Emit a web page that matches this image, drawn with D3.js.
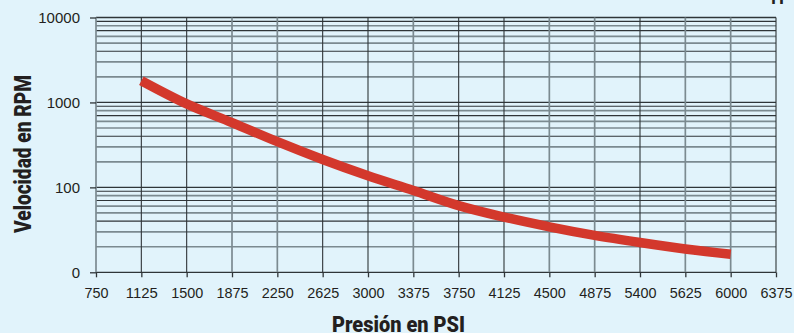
<!DOCTYPE html>
<html>
<head>
<meta charset="utf-8">
<script src="https://cdn.jsdelivr.net/npm/d3@7"></script>
<style>
  html, body { margin: 0; padding: 0; background: #e1f3fb; }
  svg { display: block; }
</style>
</head>
<body>
<svg id="chart" width="794" height="333"></svg>
<script>
// Pressure axis categories (PSI)
const pressureLabels = ["750", "1125", "1500", "1875", "2250", "2625", "3000", "3375",
                        "3750", "4125", "4500", "4875", "5400", "5625", "6000", "6375"];

// Speed curve: pressure category -> RPM
const curvePressure = ["1125", "1500", "1875", "2250", "2625", "3000", "3375",
                       "3750", "4125", "4500", "4875", "5400", "5625", "6000"];
const curveRpm = [1800, 960, 580, 345, 213, 137, 92, 61, 44.7, 34.3, 27.2, 22.4, 18.8, 16.3];

// Log-scale RPM ticks and their printed labels
const rpmTickValues = [10, 100, 1000, 10000];
const rpmTickLabels = ["0", "100", "1000", "10000"];

// ---- layout & styling ----
const W = 794, H = 333;
const plotLeft = 96, plotRight = 776, plotTop = 17.5, plotBottom = 272.3;
const ink = "#231f20";
const darkLine = { stroke: "#2f3538", width: 1.1 };
const greyLine = { stroke: "#7b8a90", width: 1.7 };
// printed grid alternates between two inks
const verticalInk = "gddggddgddggdggd";
const minorInk = { 2: "g", 3: "g", 4: "d", 5: "g", 6: "g", 7: "d", 8: "g", 9: "d" };
const styleOf = c => (c === "d" ? darkLine : greyLine);

const svg = d3.select("#chart");
svg.append("rect").attr("width", W).attr("height", H).attr("fill", "#e1f3fb");

const x = d3.scalePoint().domain(pressureLabels).range([plotLeft, plotRight]);
const y = d3.scaleLog().domain([10, 10000]).range([plotBottom, plotTop]);

const grid = svg.append("g");

// horizontal minor lines (2..9 within each decade)
const minor = [];
[10, 100, 1000].forEach(dec => {
  for (let m = 2; m <= 9; m++) minor.push({ v: dec * m, s: styleOf(minorInk[m]) });
});
grid.selectAll("line.hminor").data(minor).join("line")
  .attr("class", "hminor")
  .attr("x1", plotLeft).attr("x2", plotRight)
  .attr("y1", d => y(d.v)).attr("y2", d => y(d.v))
  .attr("stroke", d => d.s.stroke).attr("stroke-width", d => d.s.width);

// horizontal decade lines
grid.selectAll("line.hmajor").data(rpmTickValues).join("line")
  .attr("class", "hmajor")
  .attr("x1", plotLeft).attr("x2", plotRight)
  .attr("y1", d => y(d)).attr("y2", d => y(d))
  .attr("stroke", darkLine.stroke).attr("stroke-width", 1.3);

// vertical lines
grid.selectAll("line.v").data(pressureLabels).join("line")
  .attr("class", "v")
  .attr("x1", d => x(d)).attr("x2", d => x(d))
  .attr("y1", plotTop).attr("y2", plotBottom)
  .attr("stroke", (d, i) => styleOf(verticalInk[i]).stroke)
  .attr("stroke-width", (d, i) => styleOf(verticalInk[i]).width);

// axes
const yAxis = d3.axisLeft(y)
  .tickValues(rpmTickValues)
  .tickFormat((d, i) => rpmTickLabels[i])
  .tickSize(6).tickPadding(10);
const gy = svg.append("g").attr("transform", `translate(${plotLeft},0)`).call(yAxis);

const xAxis = d3.axisBottom(x).tickSize(5).tickPadding(10);
const gx = svg.append("g").attr("transform", `translate(0,${plotBottom})`).call(xAxis);

[gy, gx].forEach(g => {
  g.select(".domain").remove();
  g.selectAll(".tick line").attr("stroke", darkLine.stroke).attr("stroke-width", 1.3);
  g.selectAll(".tick text")
    .attr("fill", ink)
    .style("font-family", "'Liberation Sans', Arial, sans-serif")
    .style("font-size", "15px");
});
gx.selectAll(".tick text").attr("textLength", d => d.length * 8).attr("lengthAdjust", "spacingAndGlyphs");

// curve
const pts = curvePressure.map((p, i) => ({ p, v: curveRpm[i] }));
svg.append("path")
  .datum(pts)
  .attr("d", d3.line().x(d => x(d.p)).y(d => y(d.v)).curve(d3.curveMonotoneX))
  .attr("fill", "none")
  .attr("stroke", "#d3382c")
  .attr("stroke-width", 9.5)
  .attr("stroke-linecap", "butt");

// axis titles
svg.append("text")
  .attr("x", 398.5).attr("y", 331.5)
  .attr("text-anchor", "middle")
  .attr("textLength", 133).attr("lengthAdjust", "spacingAndGlyphs")
  .attr("fill", ink)
  .style("font-family", "Roboto, 'Liberation Sans', sans-serif")
  .style("font-weight", 900)
  .style("font-size", "22px")
  .text("Presión en PSI");

svg.append("text")
  .attr("transform", "translate(30.5,154) rotate(-90)")
  .attr("text-anchor", "middle")
  .attr("textLength", 158).attr("lengthAdjust", "spacingAndGlyphs")
  .attr("fill", ink)
  .style("font-family", "Roboto, 'Liberation Sans', sans-serif")
  .style("font-weight", 900)
  .style("font-size", "24px")
  .text("Velocidad en RPM");

// running header cut by the top edge
svg.append("text")
  .attr("x", 771).attr("y", 3.5)
  .attr("fill", ink)
  .style("font-family", "'Liberation Sans', Arial, sans-serif")
  .style("font-weight", 700)
  .style("font-size", "18px")
  .text("H");
</script>
</body>
</html>
